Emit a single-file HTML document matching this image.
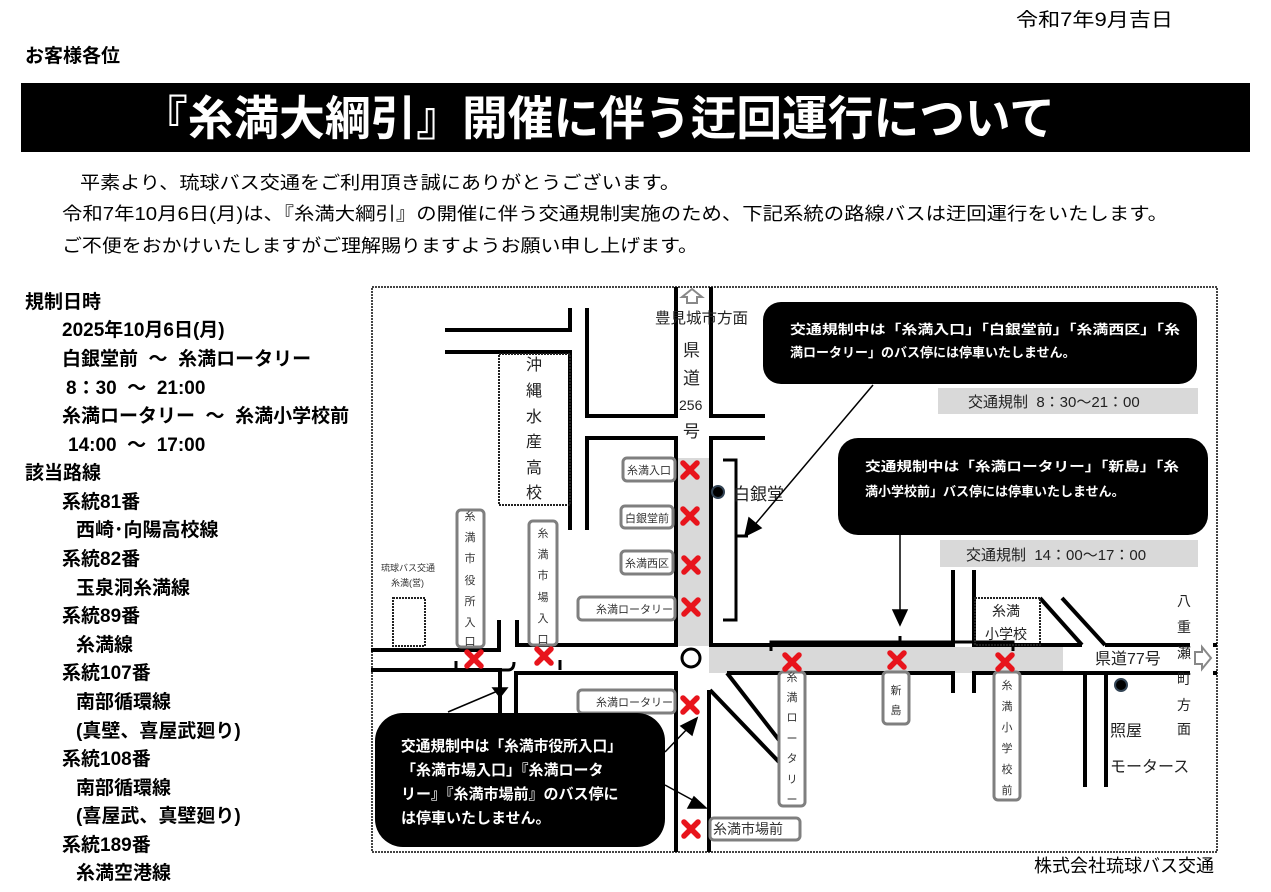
<!DOCTYPE html>
<html><head><meta charset="utf-8"><style>
html,body{margin:0;padding:0;background:#fff;}
svg{display:block;font-family:"Liberation Sans","Noto Sans CJK JP",sans-serif;}
.b{font-weight:bold;}
</style></head><body>
<svg width="1271" height="892" viewBox="0 0 1271 892" xmlns="http://www.w3.org/2000/svg">
<defs>
<g id="x"><path d="M-7,-7 L7,7 M7,-7 L-7,7" stroke="#e8141c" stroke-width="5.5" stroke-linecap="round"/></g>
</defs>
<!-- header -->
<text x="1016" y="26" font-size="19" textLength="157" lengthAdjust="spacingAndGlyphs">令和7年9月吉日</text>
<text x="25" y="62" font-size="19" class="b">お客様各位</text>
<rect x="21" y="83" width="1229" height="69" fill="#000"/>
<text x="142" y="135" font-size="47" class="b" fill="#fff" textLength="913" lengthAdjust="spacingAndGlyphs">『糸満大綱引』開催に伴う迂回運行について</text>
<text x="80" y="189" font-size="18" textLength="600" lengthAdjust="spacingAndGlyphs">平素より、琉球バス交通をご利用頂き誠にありがとうございます。</text>
<text x="62" y="220" font-size="18" textLength="1106" lengthAdjust="spacingAndGlyphs">令和7年10月6日(月)は、『糸満大綱引』の開催に伴う交通規制実施のため、下記系統の路線バスは迂回運行をいたします。</text>
<text x="62" y="252" font-size="18" textLength="636" lengthAdjust="spacingAndGlyphs">ご不便をおかけいたしますがご理解賜りますようお願い申し上げます。</text>
<!-- left column -->
<g font-size="19" class="b">
<text x="25" y="308">規制日時</text>
<text x="62" y="336">2025年10月6日(月)</text>
<text x="62" y="365" xml:space="preserve">白銀堂前  ～  糸満ロータリー</text>
<text x="66" y="394" xml:space="preserve">8：30  ～  21:00</text>
<text x="62" y="422" xml:space="preserve">糸満ロータリー  ～  糸満小学校前</text>
<text x="68" y="451" xml:space="preserve">14:00  ～  17:00</text>
<text x="25" y="479">該当路線</text>
<text x="62" y="508">系統81番</text>
<text x="76" y="536">西崎･向陽高校線</text>
<text x="62" y="565">系統82番</text>
<text x="76" y="594">玉泉洞糸満線</text>
<text x="62" y="622">系統89番</text>
<text x="76" y="651">糸満線</text>
<text x="62" y="679">系統107番</text>
<text x="76" y="708">南部循環線</text>
<text x="76" y="737">(真壁、喜屋武廻り)</text>
<text x="62" y="765">系統108番</text>
<text x="76" y="794">南部循環線</text>
<text x="76" y="822">(喜屋武、真壁廻り)</text>
<text x="62" y="851">系統189番</text>
<text x="76" y="879">糸満空港線</text>
</g>
<text x="1034" y="872" font-size="18">株式会社琉球バス交通</text>
<!-- map frame -->
<rect x="372" y="287" width="845" height="565" fill="none" stroke="#444" stroke-width="2" stroke-dasharray="2,1"/>
<!-- gray bands -->
<rect x="678" y="458" width="31" height="188" fill="#d9d9d9"/>
<rect x="709" y="647" width="354" height="26" fill="#d9d9d9"/>
<!-- roads -->
<g stroke="#000" stroke-width="4" fill="none">
<path d="M676,287 V416 H587 V308"/>
<path d="M711,287 V416 H765"/>
<path d="M587,530 V438 H676 V645 H517 V620"/>
<path d="M765,438 H711 V645 H953 V570"/>
<path d="M974,570 V645 H1082"/>
<path d="M1105,645 H1190"/>
<path d="M1213,645 H1217"/>
<path d="M445,330 H570 V308"/>
<path d="M445,352 H570 V530"/>
<path d="M371,650 H499 V620"/>
<path d="M371,670 H500 V713"/>
<path d="M516,713 V673 H676 V852"/>
<path d="M709,852 V690"/>
<path d="M727,673 H953 V693"/>
<path d="M974,693 V673 H1190"/>
<path d="M1213,673 H1217"/>
<path d="M1085,673 V787"/>
<path d="M1106,673 V787"/>
<path d="M1040,598 L1082,645"/>
<path d="M1062,598 L1105,645"/>
<path d="M727,673 L779,740"/>
<path d="M710,690 L779,762"/>
</g>
<!-- brackets -->
<g stroke="#000" stroke-width="3" fill="none">
<path d="M723,460 H736 V620 H723"/>
<path d="M736,536 H748"/>
<path d="M771,651 V642 H1013 V651"/>
<path d="M900,642 V636"/>
<path d="M456,661 V670 H508 Q514,670 514,662"/>
<path d="M560,660 V670"/>
</g>
<!-- dotted buildings -->
<g fill="none" stroke="#222" stroke-width="2" stroke-dasharray="2,1">
<rect x="499" y="354" width="71" height="151"/>
<rect x="393" y="598" width="32" height="48"/>
<rect x="975" y="598" width="65" height="47"/>
</g>
<!-- map texts -->
<g font-size="15" fill="#222">
<text x="655" y="323" textLength="93" lengthAdjust="spacingAndGlyphs">豊見城市方面</text>
<text x="683" y="356" font-size="17">県</text>
<text x="683" y="384" font-size="17">道</text>
<text x="679" y="410" font-size="14">256</text>
<text x="683" y="437" font-size="17">号</text>
<text x="733" y="500" font-size="17">白銀堂</text>
<text x="1095" y="664" font-size="16">県道77号</text>
<text x="1110" y="736" font-size="16">照屋</text>
<text x="1110" y="772" font-size="16">モータース</text>
<text x="992" y="616" font-size="14">糸満</text>
<text x="985" y="639" font-size="14">小学校</text>
</g>
<g font-size="16" fill="#222">
<text x="526" y="370">沖</text><text x="526" y="396">縄</text><text x="526" y="422">水</text><text x="526" y="447">産</text><text x="526" y="473">高</text><text x="526" y="498">校</text>
<text x="1177" y="606" font-size="14">八</text><text x="1177" y="632" font-size="14">重</text><text x="1177" y="658" font-size="14">瀬</text><text x="1177" y="684" font-size="14">町</text><text x="1177" y="710" font-size="14">方</text><text x="1177" y="734" font-size="14">面</text>
</g>
<text x="381" y="571" font-size="9" fill="#333">琉球バス交通</text>
<text x="391" y="586" font-size="9" fill="#333">糸満(営)</text>
<!-- arrows up / right -->
<path d="M692,289 L702,297 H697 V303 H687 V297 H682 Z" fill="#fff" stroke="#888" stroke-width="2"/>
<path d="M1195,652 H1202 V647 L1211,658 L1202,669 V664 H1195 Z" fill="#fff" stroke="#888" stroke-width="2"/>
<!-- dots -->
<circle cx="718" cy="492" r="6" fill="#000" stroke="#345" stroke-width="2"/>
<circle cx="1121" cy="685" r="6" fill="#000" stroke="#345" stroke-width="2"/>
<circle cx="691" cy="658" r="9" fill="#fff" stroke="#000" stroke-width="3"/>
<!-- stop labels -->
<g fill="#fff" stroke="#7f7f7f" stroke-width="3">
<rect x="623" y="458" width="52" height="23" rx="4"/>
<rect x="621" y="506" width="52" height="22" rx="4"/>
<rect x="621" y="551" width="52" height="23" rx="4"/>
<rect x="578" y="597" width="97" height="23" rx="4"/>
<rect x="578" y="690" width="97" height="23" rx="4"/>
<rect x="710" y="818" width="90" height="22" rx="4"/>
<rect x="457" y="510" width="27" height="137" rx="4"/>
<rect x="529" y="521" width="28" height="124" rx="4"/>
<rect x="779" y="672" width="26" height="134" rx="4"/>
<rect x="883" y="672" width="26" height="52" rx="4"/>
<rect x="994" y="672" width="26" height="128" rx="4"/>
</g>
<g font-size="11" fill="#333">
<text x="627" y="474">糸満入口</text>
<text x="625" y="522">白銀堂前</text>
<text x="625" y="567">糸満西区</text>
<text x="596" y="613">糸満ロータリー</text>
<text x="596" y="706">糸満ロータリー</text>
<text x="713" y="834" font-size="14">糸満市場前</text>
</g>
<g font-size="11" fill="#333" text-anchor="middle">
<text x="470" y="520">糸</text><text x="470" y="541">満</text><text x="470" y="562">市</text><text x="470" y="584">役</text><text x="470" y="605">所</text><text x="470" y="626">入</text><text x="470" y="645">口</text>
<text x="543" y="537">糸</text><text x="543" y="558">満</text><text x="543" y="579">市</text><text x="543" y="601">場</text><text x="543" y="622">入</text><text x="543" y="643">口</text>
<text x="792" y="681">糸</text><text x="792" y="701">満</text><text x="792" y="721">ロ</text><text x="792" y="742">ー</text><text x="792" y="762">タ</text><text x="792" y="783">リ</text><text x="792" y="803">ー</text>
<text x="896" y="694">新</text><text x="896" y="714">島</text>
<text x="1007" y="689">糸</text><text x="1007" y="710">満</text><text x="1007" y="731">小</text><text x="1007" y="752">学</text><text x="1007" y="773">校</text><text x="1007" y="794">前</text>
</g>
<!-- X marks -->
<use href="#x" x="690" y="470"/><use href="#x" x="690" y="516"/><use href="#x" x="691" y="565"/><use href="#x" x="691" y="607"/>
<use href="#x" x="690" y="705"/><use href="#x" x="691" y="829"/>
<use href="#x" x="474" y="659"/><use href="#x" x="544" y="656"/>
<use href="#x" x="792" y="662"/><use href="#x" x="897" y="660"/><use href="#x" x="1005" y="662"/>
<!-- callouts -->
<rect x="763" y="302" width="434" height="82" rx="18" fill="#000"/>
<text x="790" y="334" font-size="13" class="b" fill="#fff" textLength="390" lengthAdjust="spacingAndGlyphs">交通規制中は「糸満入口」「白銀堂前」「糸満西区」「糸</text>
<text x="790" y="357" font-size="13" class="b" fill="#fff">満ロータリー」のバス停には停車いたしません。</text>
<rect x="938" y="388" width="260" height="26" fill="#d9d9d9"/>
<text x="968" y="407" font-size="15" fill="#222" xml:space="preserve">交通規制  8：30～21：00</text>
<rect x="838" y="438" width="370" height="97" rx="20" fill="#000"/>
<text x="865" y="471" font-size="13" class="b" fill="#fff" textLength="314" lengthAdjust="spacingAndGlyphs">交通規制中は「糸満ロータリー」「新島」「糸</text>
<text x="865" y="496" font-size="13" class="b" fill="#fff">満小学校前」バス停には停車いたしません。</text>
<rect x="940" y="540" width="258" height="27" fill="#d9d9d9"/>
<text x="966" y="560" font-size="15" fill="#222" xml:space="preserve">交通規制  14：00～17：00</text>
<rect x="375" y="713" width="290" height="134" rx="28" fill="#000"/>
<g font-size="15" class="b" fill="#fff">
<text x="401" y="751" textLength="221" lengthAdjust="spacingAndGlyphs">交通規制中は「糸満市役所入口」</text>
<text x="401" y="775">「糸満市場入口」『糸満ロータ</text>
<text x="401" y="799">リー』『糸満市場前』のバス停に</text>
<text x="401" y="823">は停車いたしません。</text>
</g>
<!-- pointer arrows -->
<g stroke="#000" stroke-width="1.5" fill="#000">
<line x1="873" y1="385" x2="752" y2="528"/>
<path d="M745,536 L749,518 L761,528 Z"/>
<line x1="900" y1="535" x2="900" y2="612"/>
<path d="M893,610 L907,610 L900,625 Z"/>
<line x1="448" y1="712" x2="500" y2="690"/>
<path d="M493,688 L507,688 L500,697 Z"/>
<line x1="665" y1="752" x2="690" y2="726"/>
<path d="M697,718 L692,735 L681,726 Z"/>
<line x1="665" y1="785" x2="698" y2="803"/>
<path d="M706,808 L688,808 L694,797 Z"/>
</g>
</svg>
</body></html>
